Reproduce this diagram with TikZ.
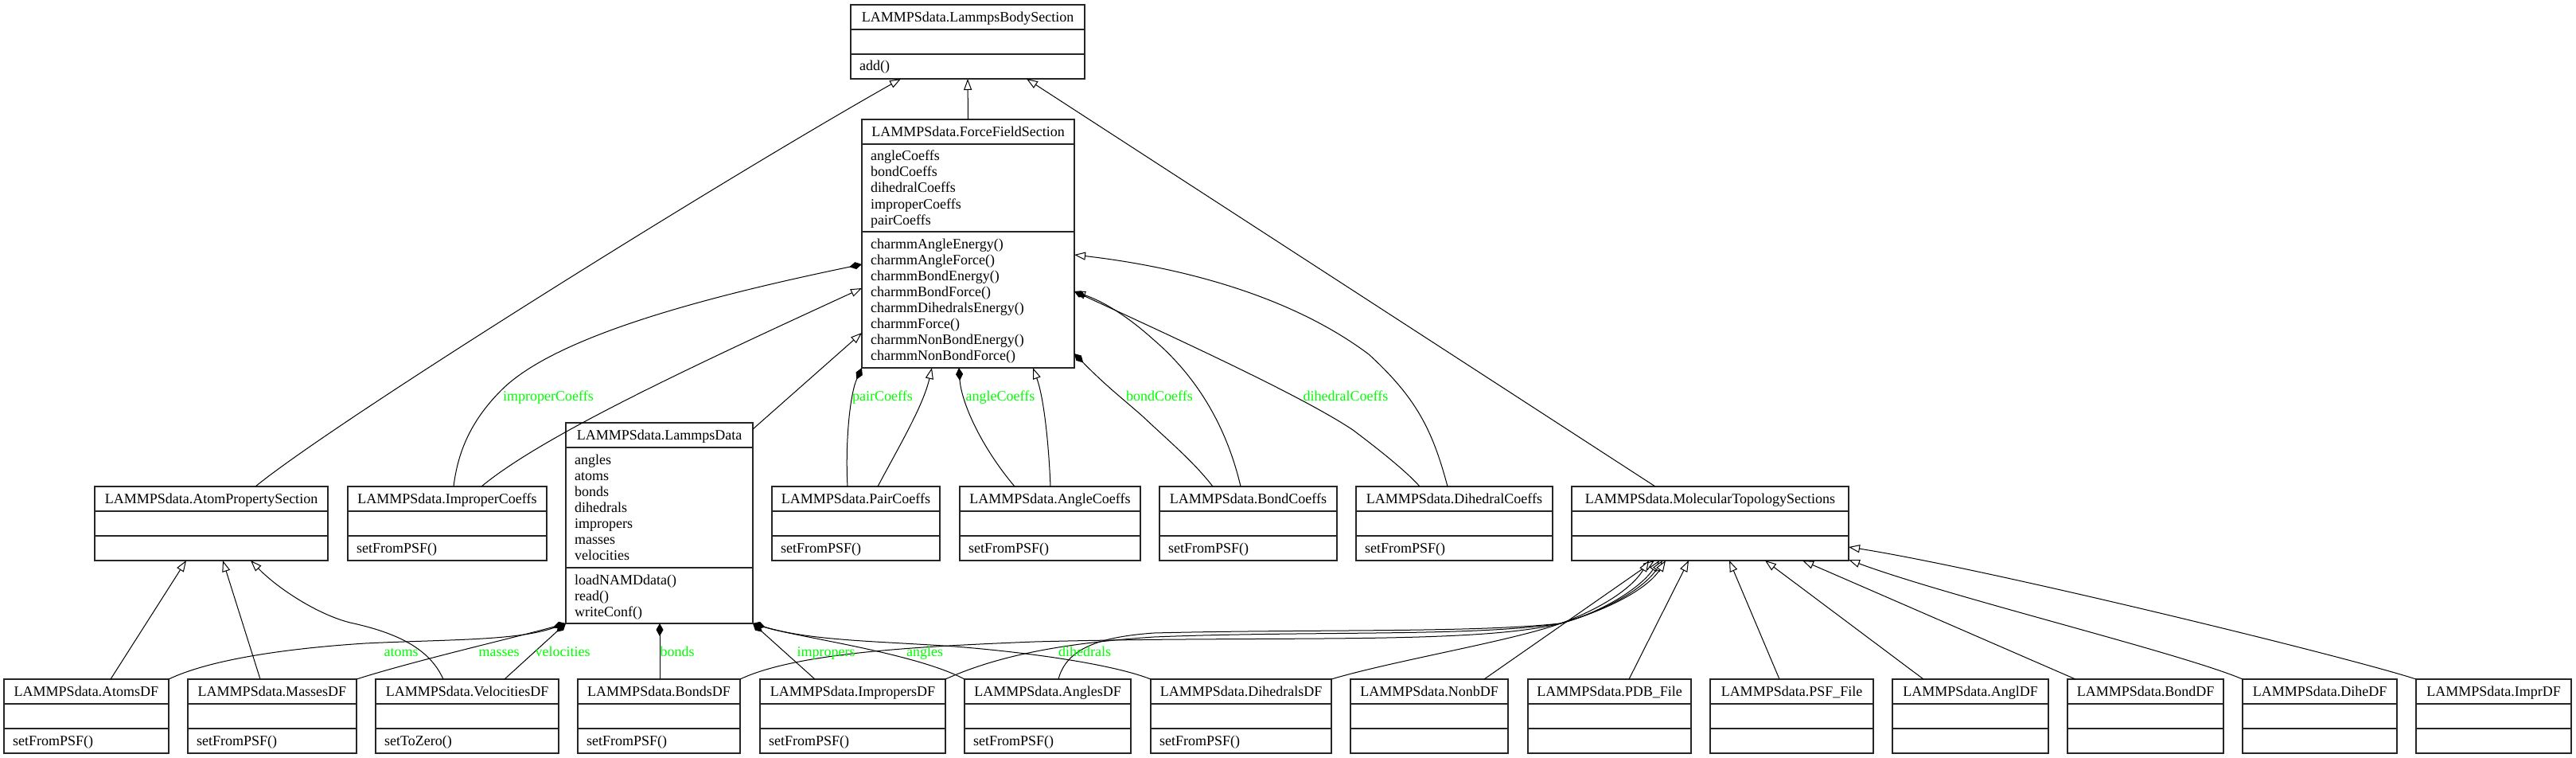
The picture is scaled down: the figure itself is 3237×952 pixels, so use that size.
\documentclass[tikz,border=0pt]{standalone}
\usepackage{fontspec}
\setmainfont{Liberation Serif}
\usetikzlibrary{arrows.meta}
\definecolor{lblgreen}{RGB}{0,255,0}
\tikzset{
  cls/.style={draw=black!85, line width=1.5pt, rectangle, inner sep=0pt, outer sep=0pt, fill=white},
  cdiv/.style={draw=black!85, line width=1.5pt},
  txt/.style={font=\fontsize{18}{20}\selectfont, inner sep=0pt, text=black},
  lab/.style={font=\fontsize{18}{20}\selectfont, inner sep=0pt, text=lblgreen, anchor=base},
  edge/.style={draw=black, line width=1pt},
  inh/.style={edge, -{Triangle[length=14pt, width=10pt, fill=white, line width=1pt]}},
  comp/.style={edge, {Diamond[length=16pt, width=9pt, line width=1pt]}-}
}
\newcommand\umlclass[9]{%
  \node[cls, anchor=north west, minimum width=#4pt, minimum height={(31+#5+#6)*1pt}] (#1) at (#2,#3) {};
  \draw[cdiv] ([yshift=-31pt]#1.north west) -- ([yshift=-31pt]#1.north east);
  \draw[cdiv] ([yshift={-(31+#5)*1pt}]#1.north west) -- ([yshift={-(31+#5)*1pt}]#1.north east);
  \node[txt, anchor=base] (#1-t) at ([yshift=-21.5pt]#1.north) {#7};
  \if\relax\detokenize{#8}\relax\else
    \foreach \t [count=\i from 0] in {#8} {\node[txt, anchor=base west] (#1-a\i) at ([xshift=11pt, yshift={-(52+20*\i)*1pt}]#1.north west) {\t};}
  \fi
  \if\relax\detokenize{#9}\relax\else
    \foreach \t [count=\i from 0] in {#9} {\node[txt, anchor=base west] (#1-m\i) at ([xshift=11pt, yshift={-(52+#5+20*\i)*1pt}]#1.north west) {\t};}
  \fi
}
\begin{document}
\begin{tikzpicture}[x=1pt, y=-1pt]
\useasboundingbox[fill=white] (0,0) rectangle (3237,952);

% ---------- classes ----------
\umlclass{lbs}{1069}{6}{294}{31}{31}{LAMMPSdata.LammpsBodySection}{}{add()}
\umlclass{ffs}{1083}{150}{267}{110}{171}{LAMMPSdata.ForceFieldSection}{angleCoeffs,bondCoeffs,dihedralCoeffs,improperCoeffs,pairCoeffs}{charmmAngleEnergy(),charmmAngleForce(),charmmBondEnergy(),charmmBondForce(),charmmDihedralsEnergy(),charmmForce(),charmmNonBondEnergy(),charmmNonBondForce()}
\umlclass{ld}{711}{531}{235}{151}{70}{LAMMPSdata.LammpsData}{angles,atoms,bonds,dihedrals,impropers,masses,velocities}{loadNAMDdata(),read(),writeConf()}
\umlclass{aps}{119}{611}{293}{31}{31}{LAMMPSdata.AtomPropertySection}{}{}
\umlclass{impc}{437}{611}{250}{31}{31}{LAMMPSdata.ImproperCoeffs}{}{setFromPSF()}
\umlclass{pairc}{970}{611}{211}{31}{31}{LAMMPSdata.PairCoeffs}{}{setFromPSF()}
\umlclass{anglec}{1206}{611}{227}{31}{31}{LAMMPSdata.AngleCoeffs}{}{setFromPSF()}
\umlclass{bondc}{1457}{611}{223}{31}{31}{LAMMPSdata.BondCoeffs}{}{setFromPSF()}
\umlclass{dihc}{1704}{611}{247}{31}{31}{LAMMPSdata.DihedralCoeffs}{}{setFromPSF()}
\umlclass{mts}{1975}{611}{348}{31}{31}{LAMMPSdata.MolecularTopologySections}{}{}
\umlclass{atomsdf}{5}{853}{207}{31}{31}{LAMMPSdata.AtomsDF}{}{setFromPSF()}
\umlclass{massesdf}{236}{853}{212}{31}{31}{LAMMPSdata.MassesDF}{}{setFromPSF()}
\umlclass{veldf}{472}{853}{230}{31}{31}{LAMMPSdata.VelocitiesDF}{}{setToZero()}
\umlclass{bondsdf}{726}{853}{204}{31}{31}{LAMMPSdata.BondsDF}{}{setFromPSF()}
\umlclass{impdf}{955}{853}{233}{31}{31}{LAMMPSdata.ImpropersDF}{}{setFromPSF()}
\umlclass{anglesdf}{1212}{853}{209}{31}{31}{LAMMPSdata.AnglesDF}{}{setFromPSF()}
\umlclass{dihdf}{1446}{853}{227}{31}{31}{LAMMPSdata.DihedralsDF}{}{setFromPSF()}
\umlclass{nonbdf}{1697}{853}{198}{31}{31}{LAMMPSdata.NonbDF}{}{}
\umlclass{pdb}{1920}{853}{205}{31}{31}{LAMMPSdata.PDB\_File}{}{}
\umlclass{psf}{2149}{853}{205}{31}{31}{LAMMPSdata.PSF\_File}{}{}
\umlclass{angldf}{2378}{853}{196}{31}{31}{LAMMPSdata.AnglDF}{}{}
\umlclass{bonddf}{2598}{853}{196}{31}{31}{LAMMPSdata.BondDF}{}{}
\umlclass{dihedf}{2818}{853}{194}{31}{31}{LAMMPSdata.DiheDF}{}{}
\umlclass{imprdf}{3036}{853}{195}{31}{31}{LAMMPSdata.ImprDF}{}{}

% ---------- inheritance to LammpsBodySection ----------
\draw[inh] (ffs.north) -- (lbs.south);
\draw[inh] ([xshift=202pt]aps.north west) .. controls (420,530) and (900,230) .. ([xshift=63pt]lbs.south west);
\draw[inh] ([xshift=105pt]mts.north west) -- ([xshift=221pt]lbs.south west);

% ---------- ForceFieldSection left ----------
\draw[comp] ([yshift=-182pt]ffs.north west) .. controls (900,370) and (700,420) .. (630,490) .. controls (590,530) and (575,570) .. ([xshift=133pt]impc.north west);
\draw[inh] ([xshift=168pt]impc.north west) .. controls (683,546) and (883,454) .. ([yshift=-212pt]ffs.north west);
\draw[inh] ([yshift=-8pt]ld.north east) -- ([yshift=-268pt]ffs.north west);

% ---------- ForceFieldSection bottom ----------
\draw[comp] (ffs.south west) .. controls (1068,495) and (1062,555) .. ([xshift=95pt]pairc.north west);
\draw[inh] ([xshift=133pt]pairc.north west) .. controls (1130,560) and (1160,510) .. ([xshift=88pt]ffs.south west);
\draw[comp] ([xshift=122pt]ffs.south west) .. controls (1208,505) and (1232,560) .. ([xshift=69pt]anglec.north west);
\draw[inh] ([xshift=114pt]anglec.north west) .. controls (1318,560) and (1312,500) .. ([xshift=215pt]ffs.south west);

% ---------- ForceFieldSection right ----------
\draw[inh] ([xshift=115pt]dihc.north west) .. controls (1800,540) and (1780,500) .. (1720,445) .. controls (1620,370) and (1480,335) .. ([yshift=-170pt]ffs.north east);
\draw[inh] ([xshift=102pt]bondc.north west) .. controls (1540,530) and (1500,470) .. (1450,427) .. controls (1420,400) and (1390,380) .. ([yshift=-216pt]ffs.north east);
\draw[comp] ([yshift=-216pt]ffs.north east) .. controls (1500,435) and (1640,500) .. (1700,540) .. controls (1740,570) and (1770,595) .. ([xshift=80pt]dihc.north west);
\draw[comp] ([yshift=-294pt]ffs.north east) .. controls (1390,485) and (1410,500) .. (1436,523) .. controls (1470,555) and (1500,580) .. ([xshift=67pt]bondc.north west);

% ---------- LammpsData compositions ----------
\draw[comp] (ld.south west) .. controls (650,805) and (560,803) .. (459,808) .. controls (350,815) and (260,830) .. (atomsdf.north east);
\draw[comp] (ld.south west) .. controls (650,800) and (520,830) .. (massesdf.north east);
\draw[comp] (ld.south west) -- ([xshift=162pt]veldf.north west);
\draw[comp] ([xshift=118pt]ld.south west) -- ([xshift=103pt]bondsdf.north west);
\draw[comp] (ld.south east) -- ([xshift=69pt]impdf.north west);
\draw[comp] (ld.south east) .. controls (1000,800) and (1150,820) .. (anglesdf.north west);
\draw[comp] (ld.south east) .. controls (1020,805) and (1100,805) .. (1200,812) .. controls (1300,820) and (1400,835) .. (dihdf.north west);

% ---------- AtomPropertySection inheritance ----------
\draw[inh] ([xshift=134pt]atomsdf.north west) -- ([xshift=115pt]aps.south west);
\draw[inh] ([xshift=91pt]massesdf.north west) -- ([xshift=161pt]aps.south west);
\draw[inh] ([xshift=85pt]veldf.north west) .. controls (540,815) and (500,795) .. (440,782) .. controls (400,772) and (350,740) .. ([xshift=196pt]aps.south west);

% ---------- MolecularTopologySections inheritance ----------
\draw[inh] ([xshift=168pt]nonbdf.north west) -- ([xshift=104pt]mts.south west);
\draw[inh] (dihdf.north east) .. controls (1750,830) and (1900,805) .. (1961,783) .. controls (2010,765) and (2050,740) .. ([xshift=97pt]mts.south west);
\draw[inh] (bondsdf.north east) .. controls (1000,820) and (1150,812) .. (1300,806) .. controls (1600,798) and (1850,810) .. (1961,783) .. controls (2010,770) and (2060,740) .. ([xshift=110pt]mts.south west);
\draw[inh] (impdf.north east) .. controls (1250,825) and (1330,808) .. (1450,800) .. controls (1650,792) and (1850,800) .. (1961,783) .. controls (2015,768) and (2065,740) .. ([xshift=114pt]mts.south west);
\draw[inh] ([xshift=118pt]anglesdf.north west) .. controls (1340,815) and (1380,800) .. (1450,795) .. controls (1650,790) and (1850,795) .. (1961,783) .. controls (2020,766) and (2070,740) .. ([xshift=118pt]mts.south west);
\draw[inh] ([xshift=127pt]pdb.north west) -- ([xshift=147pt]mts.south west);
\draw[inh] ([xshift=87pt]psf.north west) -- ([xshift=198pt]mts.south west);
\draw[inh] ([xshift=39pt]angldf.north west) -- ([xshift=243pt]mts.south west);
\draw[inh] ([xshift=10pt]bonddf.north west) -- ([xshift=290pt]mts.south west);
\draw[inh] (dihedf.north west) .. controls (2740,820) and (2450,750) .. ([yshift=1pt]mts.south east);
\draw[inh] (imprdf.north west) .. controls (2950,825) and (2500,715) .. ([yshift=17pt]mts.south east);

% ---------- edge labels ----------
\node[lab] (l-impc) at (689,503) {improperCoeffs};
\node[lab] (l-pair) at (1109,503) {pairCoeffs};
\node[lab] (l-angle) at (1257,503) {angleCoeffs};
\node[lab] (l-bond) at (1457,503) {bondCoeffs};
\node[lab] (l-dih) at (1691,503) {dihedralCoeffs};
\node[lab] (l-atoms) at (504,824) {atoms};
\node[lab] (l-masses) at (627,824) {masses};
\node[lab] (l-vel) at (707,824) {velocities};
\node[lab] (l-bonds) at (851,824) {bonds};
\node[lab] (l-impr) at (1038,824) {impropers};
\node[lab] (l-angles) at (1162,824) {angles};
\node[lab] (l-dihs) at (1363,824) {dihedrals};
\end{tikzpicture}
\end{document}
